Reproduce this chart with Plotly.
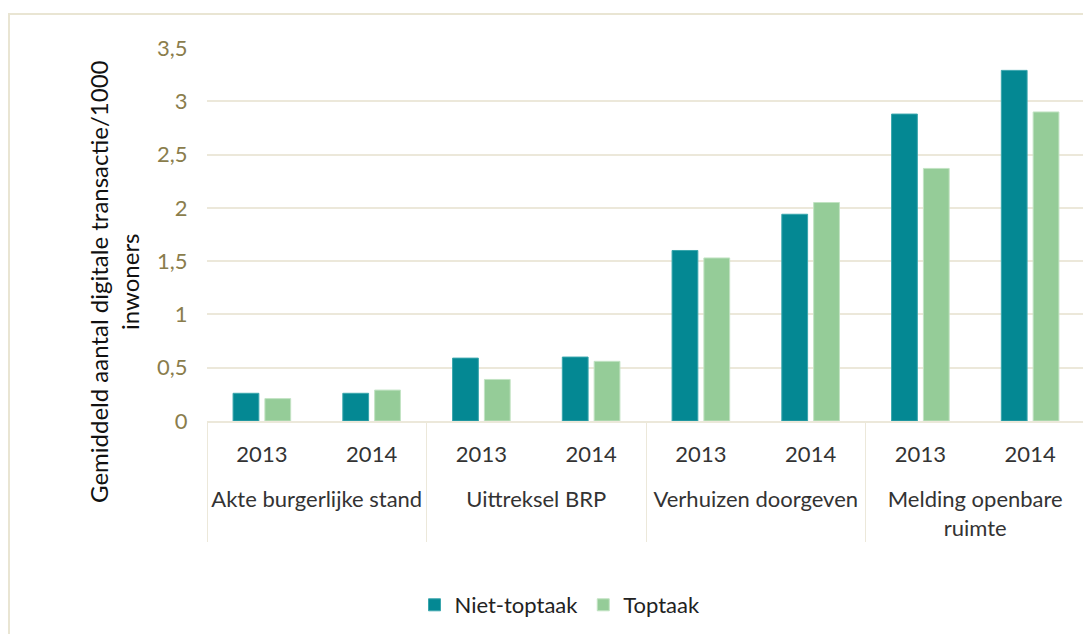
import plotly.graph_objects as go

categories = ["<br>Akte burgerlijke stand", "<br>Akte burgerlijke stand",
              "<br>Uittreksel BRP", "<br>Uittreksel BRP",
              "<br>Verhuizen doorgeven", "<br>Verhuizen doorgeven",
              "<br>Melding openbare<br>ruimte", "<br>Melding openbare<br>ruimte"]
years = ["2013", "2014", "2013", "2014", "2013", "2014", "2013", "2014"]
niet_toptaak = [0.26, 0.26, 0.59, 0.60, 1.60, 1.94, 2.88, 3.29]
toptaak = [0.21, 0.29, 0.39, 0.56, 1.53, 2.05, 2.37, 2.90]
y_ticks = [0, 0.5, 1, 1.5, 2, 2.5, 3, 3.5]
y_tick_labels = ["0", "0,5", "1", "1,5", "2", "2,5", "3", "3,5"]

# page body has an 8px margin; work in screen coordinates and convert
OFF = 8
W, H = 1091 - OFF, 634 - OFF
PL, PR, PT, PB = 207, 1085, 48, 421  # plot area in screen coords
ML, MT = PL - OFF, PT - OFF
MR = W - (PR - OFF)
MB = H - (PB - OFF)
pw, ph = W - ML - MR, H - MT - MB

def px(x):
    return (x - PL) / pw

def py(y):
    return (PB - y) / ph

GRID = "#ECE8DA"
TEAL = "#048893"
GREEN = "#95CC98"
label_font = "Lato, sans-serif"
gill_font = "Lato, Open Sans, sans-serif"

fig = go.Figure()
fig.add_trace(go.Bar(x=[categories, years], y=niet_toptaak, name="Niet-toptaak",
                     marker=dict(color=TEAL, line=dict(color="#3aa6ad", width=1))))
fig.add_trace(go.Bar(x=[categories, years], y=toptaak, name="Toptaak",
                     marker=dict(color=GREEN, line=dict(color="#c2e3c3", width=1))))

fig.update_layout(
    width=W, height=H,
    margin=dict(l=ML, r=MR, t=MT, b=MB, autoexpand=False),
    paper_bgcolor="white", plot_bgcolor="white",
    barmode="group", bargap=0.42, bargroupgap=0.19,
    showlegend=True,
    legend=dict(orientation="h", x=px(560), xanchor="center", y=py(605), yanchor="middle",
                font=dict(family=gill_font, size=22, color="#222222"),
                itemwidth=30, traceorder="normal"),
    font=dict(family=label_font, size=22, color="#333333"),
)
fig.update_yaxes(range=[0, 3.5], tickvals=y_ticks, ticktext=y_tick_labels,
                 showgrid=True, gridcolor=GRID, gridwidth=2,
                 zeroline=False, showline=False, automargin=False,
                 ticks="outside", ticklen=14, tickcolor="rgba(0,0,0,0)",
                 tickfont=dict(family=gill_font, size=22, color="#8A7D4C"))
fig.update_xaxes(showline=True, linecolor=GRID, linewidth=2, automargin=False,
                 showdividers=True, dividercolor=GRID, dividerwidth=1,
                 tickson="boundaries", ticks="", ticklen=0, ticklabelstandoff=13,
                 tickfont=dict(family=label_font, size=22, color="#333333"))

fig.add_annotation(text="Gemiddeld aantal digitale transactie/1000<br>inwoners",
                   x=px(114), y=py(282), xref="paper", yref="paper",
                   xanchor="center", yanchor="middle",
                   textangle=-90, showarrow=False, align="center",
                   font=dict(family=gill_font, size=24, color="#111111"))

fig.add_shape(type="rect", xref="paper", yref="paper",
              x0=px(9), x1=px(1100), y0=py(14), y1=py(650),
              line=dict(color="#E9E5D3", width=2), fillcolor="rgba(0,0,0,0)", layer="below")

fig.write_html("out.html")
